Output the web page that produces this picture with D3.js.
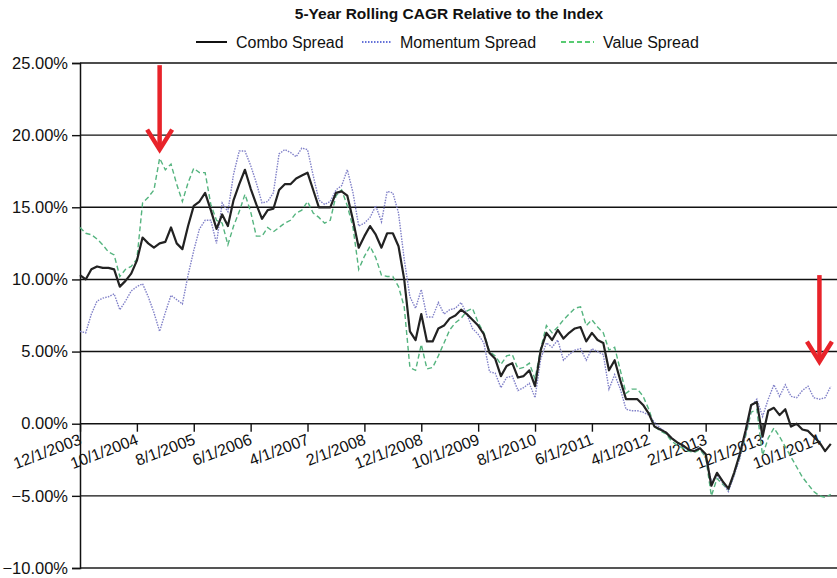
<!DOCTYPE html>
<html><head><meta charset="utf-8">
<script src="https://cdn.jsdelivr.net/npm/d3@7"></script>
<style>
html,body{margin:0;padding:0;background:#fff;}
svg{display:block;font-family:"Liberation Sans",Arial,Helvetica,sans-serif;}
</style></head>
<body>
<svg id="chart" width="837" height="578"></svg>
<script>
// ---- DATA ----
const title = "5-Year Rolling CAGR Relative to the Index";
const seriesNames = ["Combo Spread", "Momentum Spread", "Value Spread"];
// monthly, 12/1/2003 .. 12/1/2014 (133 months)
const months = d3.timeMonth.range(new Date(2003, 11, 1), new Date(2015, 0, 2))
  .map(d => (d.getMonth() + 1) + "/1/" + d.getFullYear());
const tickLabels = ["12/1/2003","10/1/2004","8/1/2005","6/1/2006","4/1/2007","2/1/2008","12/1/2008",
  "10/1/2009","8/1/2010","6/1/2011","4/1/2012","2/1/2013","12/1/2013","10/1/2014"];
const yTicks = [-10, -5, 0, 5, 10, 15, 20, 25];
const combo = [10.3,10.0,10.7,10.9,10.8,10.8,10.7,9.5,9.9,10.4,11.3,12.9,12.5,12.2,12.5,12.6,13.6,12.5,12.1,13.7,
  15.1,15.4,16.0,14.8,13.5,14.5,13.7,15.5,16.6,17.6,16.3,15.2,14.2,14.8,14.9,16.2,16.6,16.6,17.0,17.2,
  17.4,16.2,15.0,15.0,15.0,16.0,16.1,15.8,14.1,12.2,13.0,13.7,13.1,12.2,13.2,13.2,12.3,10.0,6.4,5.8,
  7.6,5.7,5.7,6.6,6.8,7.3,7.5,7.9,7.6,7.2,6.8,6.2,4.9,4.5,3.3,4.0,4.2,3.2,3.3,3.7,
  2.6,5.1,6.3,5.8,6.5,5.9,6.3,6.6,6.7,5.7,6.3,5.8,5.6,3.7,4.4,3.0,1.7,1.7,1.7,1.3,
  0.7,-0.2,-0.4,-0.6,-1.0,-1.3,-1.5,-1.8,-1.9,-1.7,-2.1,-4.3,-3.4,-4.0,-4.5,-3.4,-2.1,-0.5,1.3,1.5,
  -0.9,0.9,1.1,0.6,1.0,-0.2,0.0,-0.4,-0.5,-0.9,-1.3,-1.9,-1.4];
const momentum = [6.4,6.3,7.6,8.5,8.7,8.8,9.0,7.9,8.5,9.2,9.5,9.7,8.8,7.7,6.4,7.7,8.9,8.6,8.3,10.3,
  12.0,13.5,14.1,14.1,12.5,15.3,14.7,17.3,18.9,18.9,17.9,16.7,15.3,15.4,16.0,18.7,19.0,18.8,18.5,19.1,
  19.0,17.2,15.5,15.2,15.4,16.2,16.5,17.6,16.0,13.7,13.9,14.3,15.1,14.0,16.1,16.0,14.6,11.4,8.8,8.0,
  9.3,7.4,7.4,8.4,7.6,7.9,8.0,8.4,7.6,6.6,6.2,5.6,3.6,3.5,2.5,3.2,3.3,2.3,2.5,2.8,
  1.8,4.5,5.6,5.3,5.8,4.4,4.8,5.1,5.2,4.4,5.2,5.0,4.8,2.4,3.4,2.4,1.0,0.9,0.9,0.8,
  0.6,0.1,-0.3,-0.6,-1.0,-1.3,-1.5,-1.8,-1.9,-1.7,-2.2,-4.0,-3.6,-4.1,-4.7,-3.6,-2.4,-0.8,1.2,1.7,
  0.5,1.7,2.7,1.9,2.7,1.9,1.8,2.3,2.6,1.8,1.7,1.8,2.6];
const value = [13.6,13.2,13.1,12.8,12.4,11.9,11.7,10.2,10.7,10.9,11.4,15.3,15.7,16.2,18.4,17.6,18.0,16.6,15.4,16.7,
  17.7,17.4,17.4,15.2,14.1,13.9,12.4,13.7,14.7,15.9,14.7,13.0,13.0,13.6,13.3,13.6,13.9,14.1,14.6,14.8,
  15.4,14.6,14.3,13.9,14.1,15.8,16.2,15.1,13.6,10.7,11.6,12.3,11.5,10.3,10.2,10.2,9.5,8.1,3.9,3.7,
  5.5,3.8,3.9,4.7,5.6,6.5,7.0,7.3,7.8,8.0,7.0,6.3,5.0,4.7,4.1,4.7,4.8,3.8,3.9,4.2,
  3.1,5.2,6.8,6.3,6.7,7.2,7.6,8.0,8.1,6.8,7.2,6.7,6.3,5.1,5.3,3.7,2.1,2.4,2.4,1.9,
  1.0,-0.2,-0.5,-0.7,-1.2,-1.5,-1.7,-1.9,-2.0,-1.8,-2.3,-5.0,-3.8,-4.2,-4.6,-3.5,-2.3,-0.9,0.8,1.0,
  -2.2,-1.0,-0.3,-0.9,-1.6,-2.3,-3.0,-3.7,-4.2,-4.7,-5.0,-5.1,-4.9];
// annotation arrows: [month label, tail value, tip value]
const arrowMonths = ["2/1/2005", "10/1/2014"];
const arrowTails = [24.85, 10.3];
const arrowTips = [19.0, 4.3];

// ---- CHART ----
const svg = d3.select("#chart");
const W = 837, H = 578;
const x = d3.scalePoint().domain(months).range([80, 80 + 132 * 5.731]);
const y = d3.scaleLinear().domain([-10, 25]).range([568, 63]);
const font = '"Liberation Sans",Arial,Helvetica,sans-serif';

// gridlines
svg.append("g").selectAll("line").data(yTicks).join("line")
  .attr("x1", 80).attr("x2", W)
  .attr("y1", d => y(d)).attr("y2", d => y(d))
  .attr("stroke", d => d === -10 ? "#555" : "#111")
  .attr("stroke-width", d => d === -10 ? 2.2 : 1.4);

// y axis
const yAxis = svg.append("g").attr("transform", "translate(80,0)")
  .call(d3.axisLeft(y).tickValues(yTicks).tickSize(8).tickPadding(4)
    .tickFormat(v => (v < 0 ? "\u2212" : "") + Math.abs(v).toFixed(2) + "%"));
yAxis.select(".domain").attr("stroke", "#111").attr("stroke-width", 1.5);
yAxis.selectAll(".tick line").attr("stroke", "#111").attr("stroke-width", 1.4);
yAxis.selectAll("text").attr("font-size", "16.5px").attr("font-family", font).attr("fill", "#111");

// x axis on zero line
const xAxis = svg.append("g").attr("transform", `translate(0,${y(0)})`)
  .call(d3.axisBottom(x).tickValues(tickLabels).tickSize(8).tickSizeOuter(0));
xAxis.select(".domain").remove();
xAxis.selectAll(".tick line").attr("stroke", "#111").attr("stroke-width", 1.4);
xAxis.selectAll("text")
  .attr("font-size", "16px").attr("font-family", font).attr("fill", "#111")
  .attr("text-anchor", "end").attr("dy", null).attr("y", 0)
  .attr("transform", "translate(2,20) rotate(-21)");

// lines
const line = d3.line().x((d, i) => x(months[i])).y(d => y(d));
svg.append("path").datum(value).attr("d", line).attr("fill", "none")
  .attr("stroke", "#55b47f").attr("stroke-width", 1.4).attr("stroke-dasharray", "5,3");
svg.append("path").datum(momentum).attr("d", line).attr("fill", "none")
  .attr("stroke", "#8080c8").attr("stroke-width", 1.4).attr("stroke-dasharray", "1.5,1.2");
svg.append("path").datum(combo).attr("d", line).attr("fill", "none")
  .attr("stroke", "#222").attr("stroke-width", 2.2).attr("stroke-linejoin", "round");

// title
svg.append("text").attr("x", 449).attr("y", 19).attr("text-anchor", "middle")
  .attr("font-size", "15.5px").attr("font-weight", "bold").attr("font-family", font)
  .attr("fill", "#111").text(title);

// legend
const legendX = [196, 362, 561];
const legendLen = [31, 29, 33];
const legendStyle = [
  {stroke: "#111", dash: null, w: 2},
  {stroke: "#3344cc", dash: "1.5,1.5", w: 1.4},
  {stroke: "#22bb44", dash: "5,3", w: 1.4}];
const lg = svg.append("g").selectAll("g").data(seriesNames).join("g");
lg.append("line")
  .attr("x1", (d, i) => legendX[i]).attr("x2", (d, i) => legendX[i] + legendLen[i])
  .attr("y1", 42).attr("y2", 42)
  .attr("stroke", (d, i) => legendStyle[i].stroke)
  .attr("stroke-width", (d, i) => legendStyle[i].w)
  .attr("stroke-dasharray", (d, i) => legendStyle[i].dash);
lg.append("text")
  .attr("x", (d, i) => legendX[i] + legendLen[i] + 9).attr("y", 48)
  .attr("font-size", "16px").attr("font-family", font).attr("fill", "#111")
  .text(d => d);

// arrows
const ag = svg.append("g").selectAll("g").data(arrowMonths).join("g")
  .attr("stroke", "#e8232a").attr("stroke-width", 4.5).attr("fill", "none");
ag.append("line")
  .attr("x1", d => x(d)).attr("x2", d => x(d))
  .attr("y1", (d, i) => y(arrowTails[i])).attr("y2", (d, i) => y(arrowTips[i]) - 2);
ag.append("path")
  .attr("d", (d, i) => {
    const px = x(d), py = y(arrowTips[i]);
    return `M${px - 12.5},${py - 20}L${px},${py}L${px + 12.5},${py - 20}`;
  });
</script>
</body></html>
